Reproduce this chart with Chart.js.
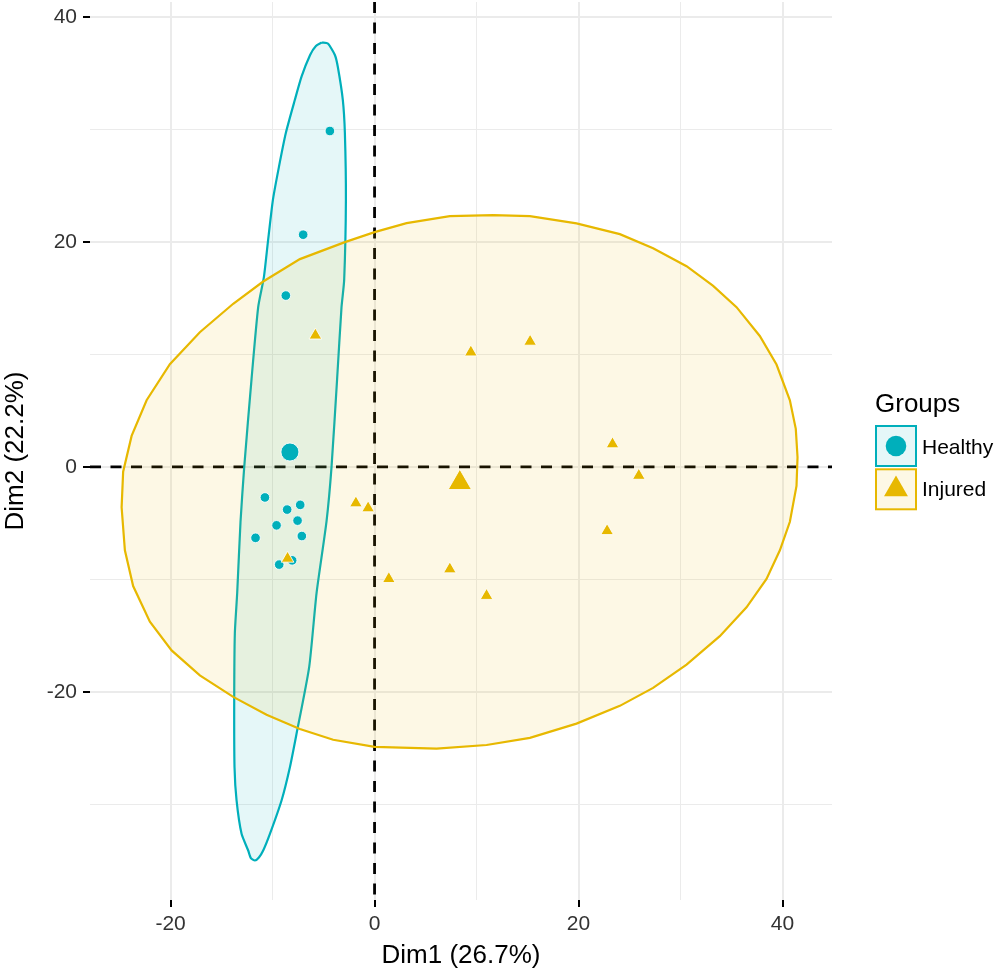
<!DOCTYPE html>
<html>
<head>
<meta charset="utf-8">
<script src="https://cdn.jsdelivr.net/npm/chart.js@4.4.1/dist/chart.umd.min.js"></script>
<style>
html,body{margin:0;padding:0;background:#fff;}
#wrap{position:relative;width:1000px;height:971px;overflow:hidden;}
#c{position:absolute;left:0;top:0;}
.lg{position:absolute;font-family:'Liberation Sans',Arial,sans-serif;color:#000;white-space:nowrap;}
#keys{position:absolute;left:870px;top:420px;}
</style>
</head>
<body>
<div id="wrap">
<canvas id="c" width="1000" height="971"></canvas>
<div id="legend"></div>
</div>
<script>
// ---------- data ----------
const groups = ['Healthy', 'Injured'];
const groupColors = ['#00AFBB', '#E7B800'];
const groupFills = ['rgba(0,175,187,0.1)', 'rgba(231,184,0,0.1)'];
const legendTitle = 'Groups';
const xTitle = 'Dim1 (26.7%)';
const yTitle = 'Dim2 (22.2%)';

const healthyX = [-4.38, -7.0, -8.7, -10.75, -8.57, -7.29, -7.55, -9.61, -11.67, -7.13, -9.35, -8.08];
const healthyY = [29.87, 20.65, 15.24, -2.71, -3.79, -3.37, -4.77, -5.19, -6.3, -6.14, -8.68, -8.3];
const injuredX = [-5.8, -8.53, -1.83, -0.63, 1.40, 7.38, 10.98, 9.44, 15.25, 23.33, 25.91, 22.8];
const injuredY = [11.7, -8.14, -3.22, -3.66, -9.95, -9.09, -11.45, 10.2, 11.15, 2.03, -0.77, -5.69];
const meanX = [-8.3, 8.36];
const meanY = [1.33, -1.41];

const healthyEllipseX = [-5.17,-4.58,-3.89,-3.60,-3.11,-2.91,-2.81,-2.98,-3.24,-3.67,-4.22,-4.71,-5.69,-6.41,-7.65,-8.30,-9.12,-10.26,-10.92,-11.34,-11.73,-12.13,-12.39,-13.04,-13.53,-13.73,-13.76,-13.70,-13.47,-13.14,-12.78,-12.06,-11.41,-10.85,-10.46,-9.97,-9.38,-8.70,-7.82,-7.16,-6.32,-5.75,-5.17];
const healthyEllipseY = [37.74,37.65,36.63,35.56,32.62,29.68,23.73,16.61,14.21,7.84,-0.01,-4.83,-11.23,-17.79,-23.72,-26.69,-29.65,-32.62,-34.10,-34.72,-34.99,-34.77,-34.10,-32.62,-29.65,-26.69,-20.76,-14.82,-11.23,-4.83,-0.01,7.84,14.21,16.88,19.99,23.73,26.66,29.69,32.62,34.70,36.63,37.43,37.74];

const injuredEllipseX = [11.63,15.23,19.80,24.05,27.31,30.59,33.20,35.49,37.77,39.41,40.72,41.30,41.47,41.37,40.72,39.74,38.43,36.47,33.85,30.59,27.31,24.05,19.80,15.23,10.98,6.08,0,-4.06,-7.32,-10.59,-13.86,-17.13,-19.90,-22.03,-23.67,-24.48,-24.80,-24.65,-23.82,-22.35,-20.07,-17.13,-13.86,-10.92,-7.32,-2.91,0,3.14,7.38,11.63];
const injuredEllipseY = [22.39,22.30,21.66,20.70,19.45,17.85,16.10,14.21,11.65,9.11,5.93,3.39,0.86,-1.69,-4.87,-7.41,-9.96,-12.48,-15.04,-17.58,-19.64,-21.24,-22.82,-24.09,-24.72,-25.04,-24.88,-24.25,-23.30,-22.03,-20.44,-18.53,-16.31,-13.76,-10.59,-7.41,-3.59,-0.42,2.76,5.93,9.14,11.98,14.51,16.49,18.48,19.99,20.88,21.68,22.30,22.39];

const xGridValues = [-20, -10, 0, 10, 20, 30, 40];
const yGridValues = [-30, -20, -10, 0, 10, 20, 30, 40];
const xMajorTicks = [-20, 0, 20, 40];
const xTickLabels = ['-20', '0', '20', '40'];
const yMajorTicks = [-20, 0, 20, 40];
const yTickLabels = ['-20', '0', '20', '40'];
const xRange = [-27.9, 44.85];
const yRange = [-38.5, 41.34];
const referenceLineValue = 0;

// ---------- chart ----------
const FONT = "'Liberation Sans', Arial, sans-serif";
const zip = (xs, ys) => xs.map((x, i) => ({x: x, y: ys[i]}));

const zeroLines = {
  id: 'zeroLines',
  beforeDatasetsDraw(chart) {
    const {ctx, chartArea: a, scales: {x, y}} = chart;
    const px = x.getPixelForValue(referenceLineValue);
    const py = y.getPixelForValue(referenceLineValue);
    ctx.save();
    ctx.strokeStyle = '#000';
    ctx.lineWidth = 2.8;
    ctx.setLineDash([11, 9.5]);
    ctx.beginPath();
    ctx.moveTo(a.left, py); ctx.lineTo(a.right, py);
    ctx.moveTo(px, a.top); ctx.lineTo(px, a.bottom);
    ctx.stroke();
    ctx.restore();
  }
};

function axis(range, gridVals, majors, labels, isX) {
  return {
    type: 'linear',
    min: range[0], max: range[1],
    afterBuildTicks: s => { s.ticks = gridVals.map(v => ({value: v})); },
    afterFit: s => {
      if (isX) s.height = 71; else s.width = 90;
      s.paddingTop = 0; s.paddingBottom = 0; s.paddingLeft = 0; s.paddingRight = 0;
    },
    grid: {
      color: '#EBEBEB',
      lineWidth: c => (c.tick && majors.includes(c.tick.value)) ? 2 : 1,
      drawTicks: true,
      tickLength: 7,
      tickWidth: 2,
      tickColor: c => (c.tick && majors.includes(c.tick.value)) ? '#000' : 'rgba(0,0,0,0)'
    },
    border: {display: false},
    ticks: {
      autoSkip: false, maxRotation: 0, minRotation: 0,
      padding: isX ? 5 : 6,
      color: '#333333',
      font: {family: FONT, size: 21},
      callback: v => { const i = majors.indexOf(v); return i >= 0 ? labels[i] : ''; }
    },
    title: {
      display: true, text: isX ? xTitle : yTitle, color: '#000',
      font: {family: FONT, size: 26}, padding: {top: 0, bottom: 0}
    }
  };
}

new Chart(document.getElementById('c'), {
  type: 'scatter',
  data: {
    datasets: [
      {label: groups[0] + ' ellipse', data: zip(healthyEllipseX, healthyEllipseY), showLine: true, fill: 'shape',
       borderColor: groupColors[0], backgroundColor: groupFills[0], borderWidth: 2.2, pointRadius: 0, tension: 0.2, order: 5},
      {label: groups[1] + ' ellipse', data: zip(injuredEllipseX, injuredEllipseY), showLine: true, fill: 'shape',
       borderColor: groupColors[1], backgroundColor: groupFills[1], borderWidth: 2.2, pointRadius: 0, tension: 0, order: 4},
      {label: groups[0], data: zip(healthyX, healthyY), pointStyle: 'circle', pointRadius: 4.8,
       backgroundColor: groupColors[0], borderColor: 'rgba(255,255,255,0.85)', borderWidth: 1, order: 3},
      {label: groups[1], data: zip(injuredX, injuredY), pointStyle: 'triangle', pointRadius: 7.3,
       backgroundColor: groupColors[1], borderColor: 'rgba(255,255,255,0.85)', borderWidth: 1, order: 2},
      {label: groups[0] + ' mean', data: [{x: meanX[0], y: meanY[0]}], pointStyle: 'circle', pointRadius: 9,
       backgroundColor: groupColors[0], borderColor: 'rgba(255,255,255,0.85)', borderWidth: 1, order: 1},
      {label: groups[1] + ' mean', data: [{x: meanX[1], y: meanY[1]}], pointStyle: 'triangle', pointRadius: 13.5,
       backgroundColor: groupColors[1], borderColor: 'rgba(255,255,255,0.85)', borderWidth: 1, order: 0}
    ]
  },
  options: {
    responsive: false, animation: false, devicePixelRatio: 1, events: [],
    layout: {autoPadding: false, padding: {left: 0, top: 2, right: 168, bottom: 0}},
    plugins: {legend: {display: false}, tooltip: {enabled: false}},
    scales: {
      x: axis(xRange, xGridValues, xMajorTicks, xTickLabels, true),
      y: axis(yRange, yGridValues, yMajorTicks, yTickLabels, false)
    }
  },
  plugins: [zeroLines]
});

// ---------- legend (HTML text + SVG keys) ----------
const lg = document.getElementById('legend');
const t = document.createElement('div');
t.className = 'lg';
t.style.cssText = 'left:875px;top:390px;font-size:26px;line-height:26px;';
t.textContent = legendTitle;
lg.appendChild(t);
const svgNS = 'http://www.w3.org/2000/svg';
const svg = document.createElementNS(svgNS, 'svg');
svg.setAttribute('id', 'keys'); svg.setAttribute('width', '52'); svg.setAttribute('height', '96');
groups.forEach((g, i) => {
  const top = 6 + i * 43.3;
  const r = document.createElementNS(svgNS, 'rect');
  r.setAttribute('x', 6); r.setAttribute('y', top); r.setAttribute('width', 40); r.setAttribute('height', 40);
  r.setAttribute('fill', groupFills[i]); r.setAttribute('stroke', groupColors[i]); r.setAttribute('stroke-width', 2);
  svg.appendChild(r);
  if (i === 0) {
    const c = document.createElementNS(svgNS, 'circle');
    c.setAttribute('cx', 26); c.setAttribute('cy', top + 20); c.setAttribute('r', 10.3);
    c.setAttribute('fill', groupColors[i]);
    svg.appendChild(c);
  } else {
    const cy = top + 20, rr = 13.8;
    const p = document.createElementNS(svgNS, 'polygon');
    const pts = [[26, cy - rr], [26 + rr * 0.866, cy + rr / 2], [26 - rr * 0.866, cy + rr / 2]];
    p.setAttribute('points', pts.map(q => q.join(',')).join(' '));
    p.setAttribute('fill', groupColors[i]);
    svg.appendChild(p);
  }
  const d = document.createElement('div');
  d.className = 'lg';
  d.style.cssText = 'left:922px;top:' + (435.5 + i * 42.7) + 'px;font-size:21px;line-height:21px;';
  d.textContent = g;
  lg.appendChild(d);
});
lg.appendChild(svg);
</script>
</body>
</html>
